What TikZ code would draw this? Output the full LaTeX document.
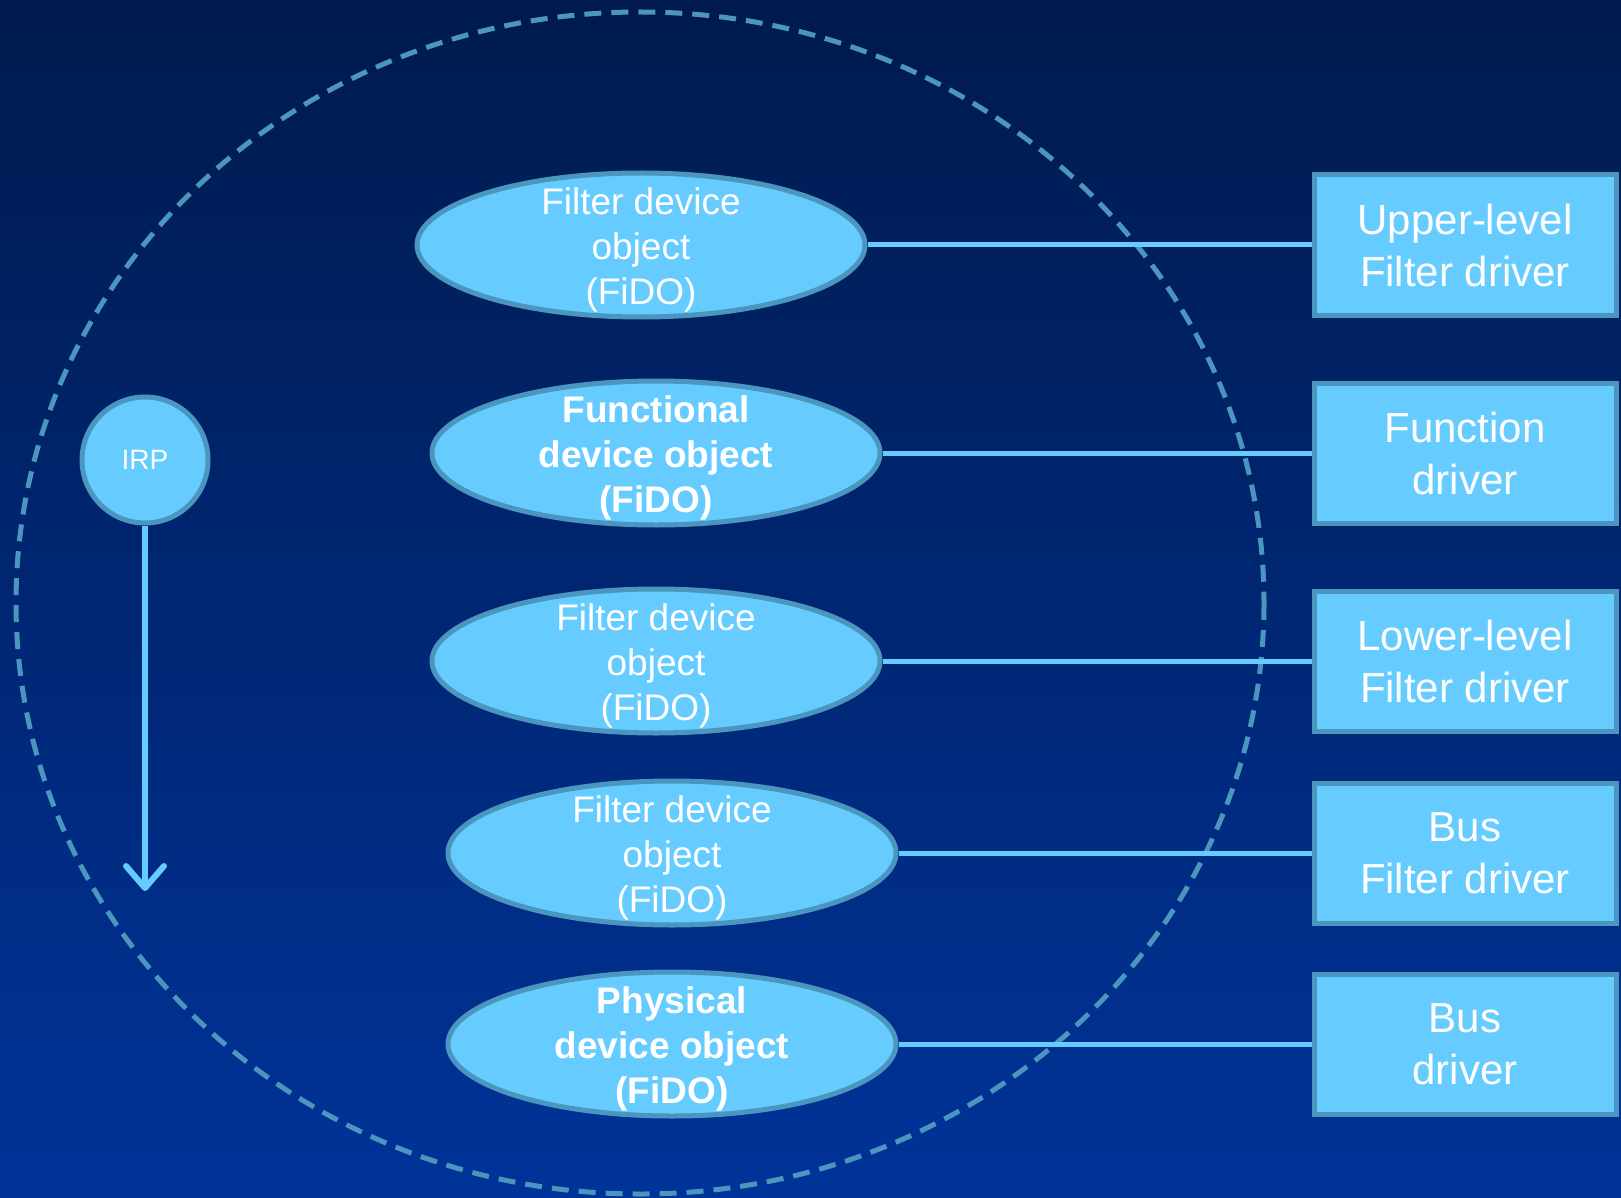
\documentclass[tikz,border=0pt]{standalone}
\usepackage{fontspec}
\setmainfont{Liberation Sans}
\usetikzlibrary{shapes.geometric,arrows.meta}
\definecolor{fidoblue}{RGB}{102,204,255}
\definecolor{rimblue}{RGB}{74,150,190}
\definecolor{navytop}{RGB}{0,26,77}
\definecolor{navybot}{RGB}{0,51,153}

\begin{document}
\begin{tikzpicture}
[x=1pt,y=-1pt,>={Straight Barb[length=22pt,width=38pt,round]},
 devobj/.style={ellipse,fill=fidoblue,draw=rimblue,line width=5pt,minimum width=448pt,minimum height=144pt,inner sep=0pt,
   label={[text=white,align=center,yshift=-5pt,font=\fontsize{37}{45}\selectfont]center:#1}},
 drvbox/.style={rectangle,fill=fidoblue,draw=rimblue,line width=5pt,minimum width=302pt,minimum height=140pt,inner sep=0pt,text=white,align=center,font=\fontsize{42}{52}\selectfont}]
  \tikzstyle{link}=[draw=fidoblue,line width=5pt]

  % background
  \useasboundingbox (0,0) rectangle (1621,1198);
  \shade[top color=navytop,bottom color=navybot] (0,0) rectangle (1621,1198);
  \draw[rimblue,line width=5pt,dash pattern=on 17pt off 10pt] (640,603) ellipse [x radius=624, y radius=591];

  \node[devobj={Filter device\\object\\(FiDO)}] (F1) at (641,245) {};
  \node[devobj={\bfseries Functional\\\bfseries device object\\\bfseries (FiDO)}] (F2) at (656,453) {};
  \node[devobj={Filter device\\object\\(FiDO)}] (F3) at (656,661) {};
  \node[devobj={Filter device\\object\\(FiDO)}] (F4) at (672,853) {};
  \node[devobj={\bfseries Physical\\\bfseries device object\\\bfseries (FiDO)}] (F5) at (672,1044) {};

  \node[drvbox] (D1) at (1465,245)  {Upper-level\\Filter driver};
  \node[drvbox] (D2) at (1465,453)  {Function\\driver};
  \node[drvbox] (D3) at (1465,661)  {Lower-level\\Filter driver};
  \node[drvbox] (D4) at (1465,853)  {Bus\\Filter driver};
  \node[drvbox] (D5) at (1465,1044) {Bus\\driver};

  \node[circle,fill=fidoblue,draw=rimblue,line width=5pt,minimum size=126pt,inner sep=0pt,text=white,font=\fontsize{28}{34}\selectfont] (irp) at (145,460) {IRP};
  \coordinate (irpend) at (145,891);

  \path (F1) edge[link] (D1)
        (F2) edge[link] (D2)
        (F3) edge[link] (D3)
        (F4) edge[link] (D4)
        (F5) edge[link] (D5);
  \draw[->,fidoblue,line width=6pt] (irp) -- (irpend);
\end{tikzpicture}
\end{document}
